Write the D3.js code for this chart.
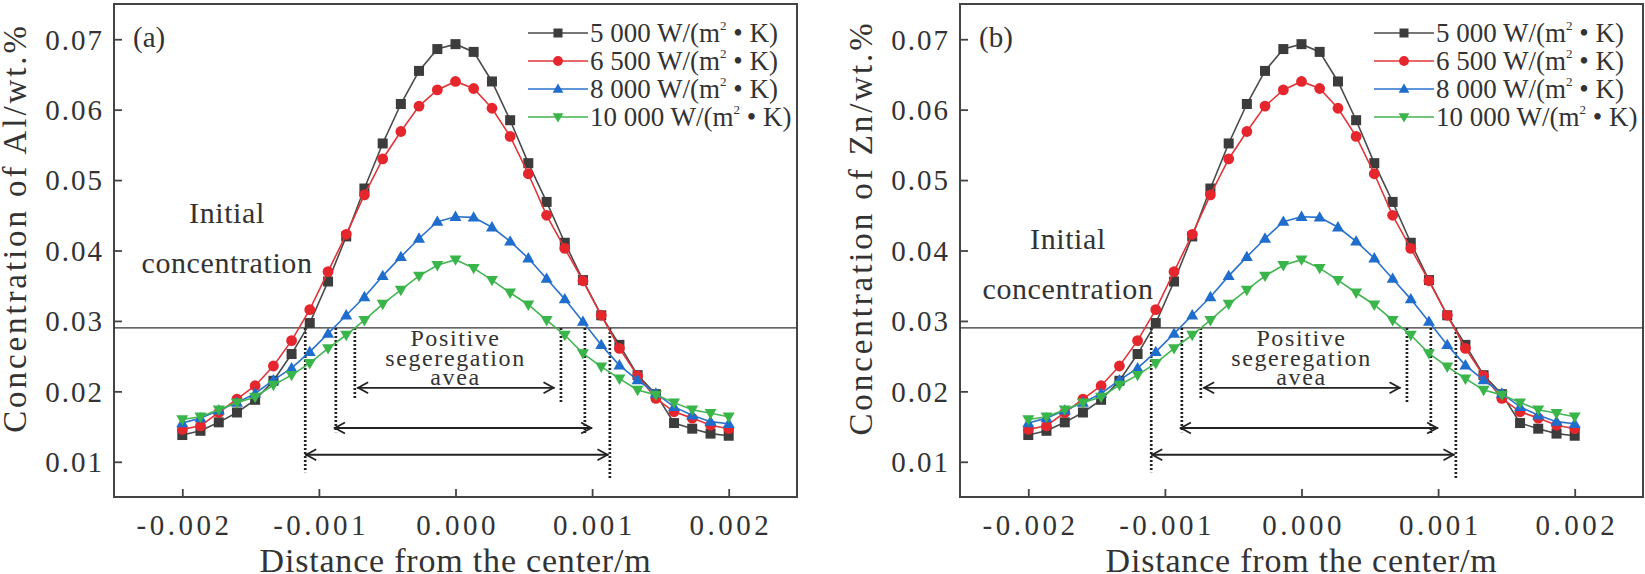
<!DOCTYPE html>
<html><head><meta charset="utf-8">
<script src="https://cdn.jsdelivr.net/npm/d3@7"></script>
<style>body{margin:0;background:#fff}svg{display:block}</style>
</head><body><svg id="c" width="1645" height="574"></svg>
<script>
// ---------- data ----------
const xValues = [-0.002,-0.001867,-0.001733,-0.0016,-0.001467,-0.001333,-0.0012,-0.001067,-0.000933,-0.0008,
  -0.000667,-0.000533,-0.0004,-0.000267,-0.000133,0,0.000133,0.000267,0.0004,0.000533,
  0.000667,0.0008,0.000933,0.001067,0.0012,0.001333,0.001467,0.0016,0.001733,0.001867,0.002];
const seriesNames = ["5 000","6 500","8 000","10 000"];
const s5000 = [0.0138,0.0144,0.0156,0.0170,0.0188,0.0215,0.0253,0.0297,0.0356,0.0420,
  0.0488,0.0552,0.0608,0.0655,0.0686,0.0693,0.0682,0.0640,0.0585,0.0524,
  0.0469,0.0411,0.0358,0.0308,0.0266,0.0223,0.0196,0.0155,0.0147,0.0140,0.0137];
const s6500 = [0.0146,0.0151,0.0170,0.0189,0.0208,0.0236,0.0272,0.0316,0.0370,0.0423,
  0.0479,0.0530,0.0569,0.0605,0.0628,0.0640,0.0630,0.0602,0.0562,0.0509,
  0.0450,0.0403,0.0357,0.0308,0.0261,0.0222,0.0190,0.0171,0.0162,0.0152,0.0147];
const s8000 = [0.0155,0.0162,0.0173,0.0184,0.0197,0.0216,0.0233,0.0256,0.0282,0.0308,
  0.0334,0.0364,0.0391,0.0417,0.0441,0.0448,0.0447,0.0433,0.0413,0.0389,
  0.0360,0.0331,0.0299,0.0266,0.0237,0.0216,0.0197,0.0178,0.0166,0.0157,0.0154];
const s10000 = [0.0160,0.0164,0.0174,0.0184,0.0192,0.0209,0.0223,0.0240,0.0261,0.0280,
  0.0301,0.0324,0.0344,0.0364,0.0379,0.0387,0.0375,0.0358,0.0340,0.0323,
  0.0301,0.0280,0.0254,0.0235,0.0218,0.0202,0.0195,0.0184,0.0174,0.0169,0.0164];
const xTicks = [-0.002,-0.001,0.000,0.001,0.002];
const xTickLabels = ["-0.002","-0.001","0.000","0.001","0.002"];
const yTicks = [0.01,0.02,0.03,0.04,0.05,0.06,0.07];
const yTickLabels = ["0.01","0.02","0.03","0.04","0.05","0.06","0.07"];
const initialConc = 0.029;
// segregation boundaries (x where curves cross initial conc) and dotted line bottoms
const dotX      = [-0.0011, -0.000876, -0.000737, 0.000772, 0.000947, 0.00113];
const dotBottom = [0.0085, 0.0142, 0.0188, 0.0183, 0.0141, 0.0074];
// double arrows
const arrowLeft  = [-0.00072, -0.00089, -0.00110];
const arrowRight = [0.000725, 0.00100, 0.00112];
const arrowY     = [0.0205, 0.0148, 0.0110];
const panelTags = ["(a)","(b)"];
const yTitles = ["Concentration of Al/wt.%","Concentration of Zn/wt.%"];
const xTitle = "Distance from the center/m";

// ---------- layout ----------
const colors = ["#3c3c3c","#e5262c","#1f6dcc","#3ab54a"];
const lineColors = ["#4a4a4a","#e0363a","#2a72cc","#44b552"];
const seriesData = [s5000,s6500,s8000,s10000];
const shapes = ["square","circle","triangle","tri-down"];
const FONT = "'Liberation Serif','Times New Roman',serif";
const svg = d3.select("#c");
const panelOffsets = [0, 846];
const initTextPos = [[227,212,262],[222,238,288]];

function marker(g, shape, x, y, color, s){
  if(shape==="square") g.append("rect").attr("x",x-s/2).attr("y",y-s/2).attr("width",s).attr("height",s).attr("fill",color);
  else if(shape==="circle") g.append("circle").attr("cx",x).attr("cy",y).attr("r",s/2+0.4).attr("fill",color);
  else if(shape==="triangle") g.append("path").attr("d",`M${x},${y-s*0.62}L${x+s*0.6},${y+s*0.42}L${x-s*0.6},${y+s*0.42}Z`).attr("fill",color);
  else g.append("path").attr("d",`M${x},${y+s*0.62}L${x+s*0.6},${y-s*0.42}L${x-s*0.6},${y-s*0.42}Z`).attr("fill",color);
}

panelOffsets.forEach((off, pi) => {
  const L = 114 + off, R = 797 + off, T = 4, B = 497;
  const x = d3.scaleLinear().domain([-0.0025,0.0025]).range([L,R]);
  const y = d3.scaleLinear().domain([0.005,0.075]).range([B,T]);
  const g = svg.append("g");

  // axes with inward ticks
  const xa = g.append("g").attr("transform",`translate(0,${B})`)
    .call(d3.axisBottom(x).tickValues(xTicks).tickSize(-8).tickFormat((d,i)=>xTickLabels[i]).tickPadding(17));
  const ya = g.append("g").attr("transform",`translate(${L},0)`)
    .call(d3.axisLeft(y).tickValues(yTicks).tickSize(-8).tickFormat((d,i)=>yTickLabels[i]).tickPadding(12));
  [xa,ya].forEach(a=>{
    a.select(".domain").remove();
    a.selectAll(".tick line").attr("stroke","#444").attr("stroke-width",1.8);
    a.selectAll(".tick text").attr("font-family",FONT).attr("font-size",29).attr("fill","#333").attr("letter-spacing","2px");
  });
  xa.selectAll(".tick text").attr("letter-spacing","3.5px").attr("dx","1.7");
  ya.selectAll(".tick text").attr("dy","0.34em").attr("dx","2");

  // frame
  g.append("rect").attr("x",L).attr("y",T).attr("width",R-L).attr("height",B-T)
    .attr("fill","none").attr("stroke","#444").attr("stroke-width",2);

  // initial concentration line
  g.append("line").attr("x1",L).attr("x2",R).attr("y1",y(initialConc)).attr("y2",y(initialConc))
    .attr("stroke","#333").attr("stroke-width",1.3);

  // dotted lines
  dotX.forEach((dx,i)=>{
    g.append("line").attr("x1",x(dx)).attr("x2",x(dx)).attr("y1",y(initialConc)).attr("y2",y(dotBottom[i]))
      .attr("stroke","#222").attr("stroke-width",2.7).attr("stroke-dasharray","2 2");
  });
  // arrows
  arrowY.forEach((ay,i)=>{
    const yy = y(ay), x1 = x(arrowLeft[i]), x2 = x(arrowRight[i]);
    g.append("line").attr("x1",x1).attr("x2",x2).attr("y1",yy).attr("y2",yy).attr("stroke","#222").attr("stroke-width",1.8);
    g.append("path").attr("d",`M${x1+11},${yy-5.5}L${x1+1},${yy}L${x1+11},${yy+5.5}`).attr("fill","none").attr("stroke","#222").attr("stroke-width",1.8);
    g.append("path").attr("d",`M${x2-11},${yy-5.5}L${x2-1},${yy}L${x2-11},${yy+5.5}`).attr("fill","none").attr("stroke","#222").attr("stroke-width",1.8);
  });

  // series
  const line = d3.line().x((d,i)=>x(xValues[i])).y(d=>y(d));
  seriesData.forEach((s,si)=>{
    g.append("path").attr("d",line(s)).attr("fill","none").attr("stroke",lineColors[si]).attr("stroke-width",1.6);
    s.forEach((v,i)=>marker(g,shapes[si],x(xValues[i]),y(v),colors[si],10));
  });

  // legend
  const rowsY = [33,61,89,117];
  seriesNames.forEach((n,si)=>{
    const yy = rowsY[si];
    g.append("line").attr("x1",528+off).attr("x2",588+off).attr("y1",yy).attr("y2",yy).attr("stroke",lineColors[si]).attr("stroke-width",1.6);
    marker(g,shapes[si],558+off,yy,colors[si],9);
    const t = g.append("text").attr("x",590+off).attr("y",yy+9).attr("font-family",FONT).attr("font-size",27).attr("fill","#333");
    t.append("tspan").text(n+" W/(m");
    t.append("tspan").attr("font-size",13).attr("dy",-12).text("2");
    t.append("tspan").attr("dy",12).text(" • K)");
  });

  // panel tag
  g.append("text").attr("x",L+19).attr("y",47).attr("font-family",FONT).attr("font-size",29).attr("fill","#333").text(panelTags[pi]);

  // initial concentration label
  const ip = initTextPos[pi];
  g.append("text").attr("x",ip[0]+off).attr("y",ip[1]).attr("dy","0.35em").attr("text-anchor","middle")
    .attr("font-family",FONT).attr("font-size",30).attr("letter-spacing","0.6px").attr("fill","#333").text("Initial");
  g.append("text").attr("x",ip[0]+off).attr("y",ip[2]).attr("dy","0.35em").attr("text-anchor","middle")
    .attr("font-family",FONT).attr("font-size",30).attr("letter-spacing","0.6px").attr("fill","#333").text("concentration");

  // positive segregation label
  [["Positive",338],["segeregation",358],["avea",377]].forEach(([t,yy])=>{
    g.append("text").attr("x",x(0)).attr("y",yy).attr("dy","0.35em").attr("text-anchor","middle")
      .attr("font-family",FONT).attr("font-size",24).attr("letter-spacing","1.6px").attr("fill","#333").text(t);
  });

  // axis titles
  g.append("text").attr("transform",`translate(${14+off},228) rotate(-90)`).attr("text-anchor","middle").attr("dy","0.35em")
    .attr("font-family",FONT).attr("font-size",33).attr("letter-spacing","2.9px").attr("fill","#333").text(yTitles[pi]);
  g.append("text").attr("x",x(0)).attr("y",572).attr("text-anchor","middle")
    .attr("font-family",FONT).attr("font-size",34).attr("letter-spacing","0.8px").attr("fill","#333").text(xTitle);
});
</script></body></html>
